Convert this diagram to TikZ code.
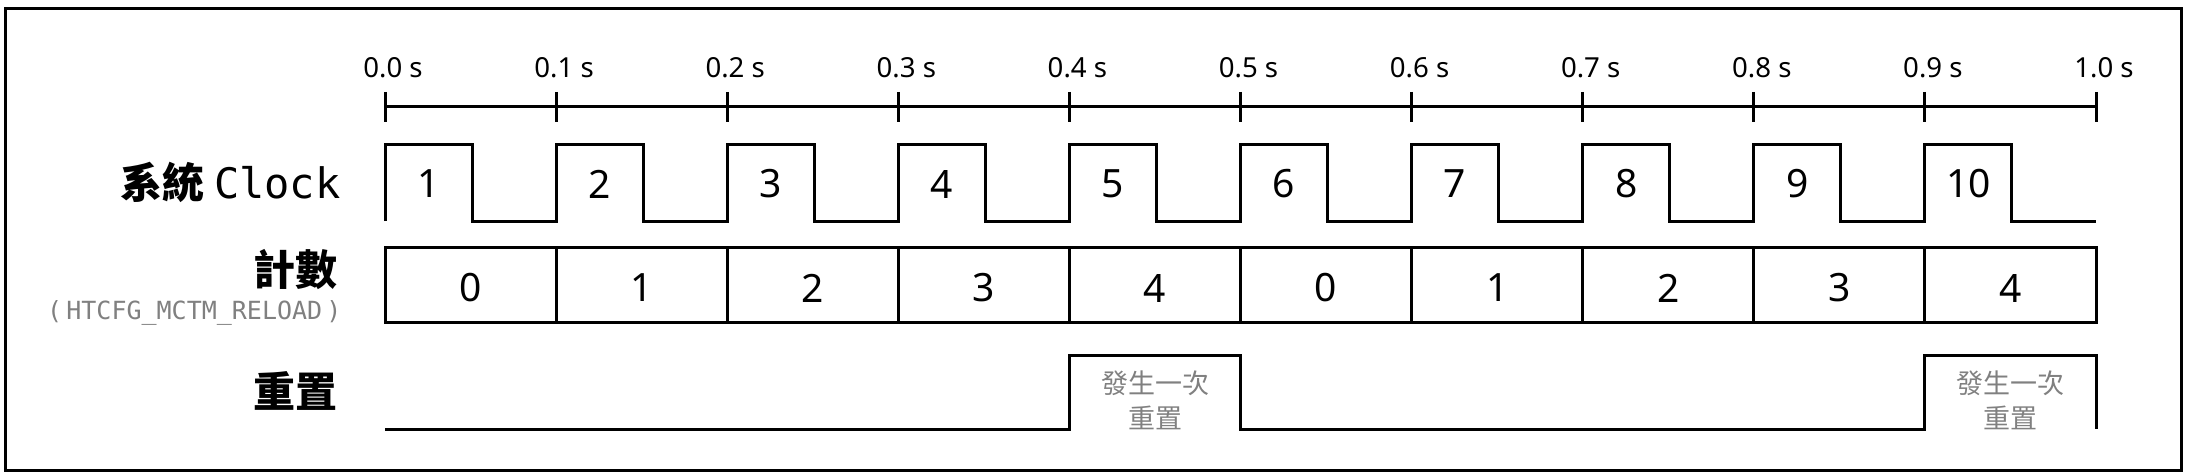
\documentclass[tikz,border=0pt]{standalone}
\usepackage{fontspec}
\setmainfont{Noto Sans}
\setmonofont{DejaVu Sans Mono}
\newfontfamily\cjkfont{Noto Sans CJK TC}
\definecolor{notegray}{HTML}{808080}

\begin{document}
\begin{tikzpicture}[x=0.5pt,y=-0.5pt,line width=1.5pt,
		every node/.style={inner sep=0pt},
		ticklabel/.style={font=\fontsize{13.8}{15}\selectfont,anchor=base},
		pulsenum/.style={font=\fontsize{19.5}{22}\selectfont},
		rowlabel/.style={font=\fontsize{21}{24}\selectfont\cjkfont\bfseries,anchor=east},
		resetnote/.style={font=\fontsize{13.5}{17.5}\selectfont\cjkfont,text=notegray,align=center}]
		\useasboundingbox (0,0) rectangle (2190,476);
		\draw (5,9) rectangle (2181,470);
		\coordinate (low) at (0,429);
		\coordinate (high) at (0,355);
		% time axis
		\foreach \i/\t in {0/0.0,1/0.1,2/0.2,3/0.3,4/0.4,5/0.5,6/0.6,7/0.7,8/0.8,9/0.9,10/1.0} {
			\pgfmathsetmacro{\x}{385+171.1*\i}
			\coordinate (t\i) at (\x,107);
			\draw (\x,92) -- (\x,122);
			\node[ticklabel] (tl\i) at (\x+8,78) {\t\ s};
		}
		\draw (t0) -- (t10);
		% row labels
		\node[rowlabel] (clk) at (342,182) {系統 {\ttfamily\mdseries Clock}};
		\node[rowlabel] (cnt) at (339,270) {計數};
		\node[anchor=east,font=\fontsize{12.5}{14}\selectfont\ttfamily,text=notegray] (reload) at (343,313) {(\,HTCFG\_MCTM\_RELOAD\,)};
		\node[rowlabel] (rst) at (339,391) {重置};
		% clock
		\draw (t0|-0,221) \foreach \i in {0,...,9} {-- ++(0,-76) -- ++(87,0) -- ++(0,76) -- ++(84.1,0)};
		\foreach \i in {0,...,9} {
			\pgfmathtruncatemacro{\n}{\i+1}
			\node[pulsenum] (c\n) at ([xshift=21.75pt]t\i|-0,184) {\n};
		}
		% counter
		\draw (t0|-0,247) rectangle (t10|-0,322);
		\foreach \i in {1,...,9} \draw (t\i|-0,247) -- (t\i|-0,322);
		\foreach \i/\v in {0/0,1/1,2/2,3/3,4/4,5/0,6/1,7/2,8/3,9/4} {
			\node[pulsenum] (n\i) at ([xshift=42.8pt]t\i|-0,288) {\v};
		}
		% reset
		\draw (t0|-low) -- (t4|-low) -- (t4|-high) -- (t5|-high) -- (t5|-low) -- (t9|-low) -- (t9|-high) -- (t10|-high) -- (t10|-low);
		\node[resetnote] (r1) at ([xshift=42.8pt]t4|-0,400) {發生一次\\重置};
		\node[resetnote] (r2) at ([xshift=42.8pt]t9|-0,400) {發生一次\\重置};
\end{tikzpicture}
\end{document}
